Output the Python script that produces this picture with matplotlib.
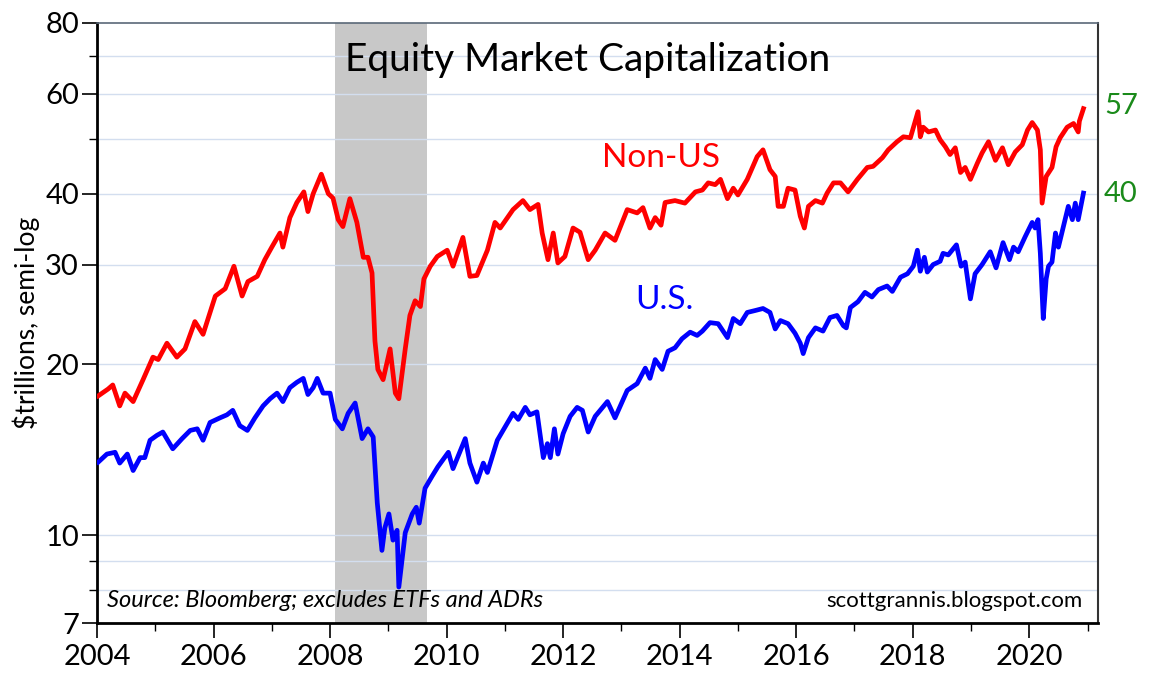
import matplotlib
matplotlib.use("Agg")
import matplotlib.pyplot as plt
from matplotlib.ticker import FixedLocator, NullFormatter

# decimal year, $ trillions
nonus_t = [2004.02, 2004.19, 2004.27, 2004.39, 2004.48, 2004.62, 2004.79, 2004.96, 2005.05, 2005.20,
           2005.37, 2005.51, 2005.68, 2005.82, 2006.03, 2006.20, 2006.35, 2006.49, 2006.59, 2006.75,
           2006.88, 2007.00, 2007.14, 2007.19, 2007.31, 2007.43, 2007.55, 2007.62, 2007.71, 2007.85,
           2007.97, 2008.05, 2008.14, 2008.22, 2008.34, 2008.46, 2008.57, 2008.65, 2008.72, 2008.77,
           2008.82, 2008.91, 2009.03, 2009.12, 2009.18, 2009.29, 2009.37, 2009.46, 2009.55, 2009.61,
           2009.72, 2009.84, 2010.01, 2010.11, 2010.28, 2010.40, 2010.52, 2010.70, 2010.83, 2010.92,
           2011.14, 2011.31, 2011.43, 2011.57, 2011.64, 2011.74, 2011.83, 2011.91, 2012.03, 2012.17,
           2012.29, 2012.43, 2012.55, 2012.72, 2012.89, 2013.10, 2013.27, 2013.37, 2013.49, 2013.58,
           2013.68, 2013.75, 2013.92, 2014.09, 2014.27, 2014.39, 2014.49, 2014.61, 2014.70, 2014.82,
           2014.92, 2015.00, 2015.16, 2015.33, 2015.43, 2015.55, 2015.64, 2015.69, 2015.78, 2015.86,
           2015.98, 2016.07, 2016.14, 2016.21, 2016.33, 2016.45, 2016.53, 2016.64, 2016.76, 2016.89,
           2017.05, 2017.22, 2017.32, 2017.48, 2017.58, 2017.73, 2017.84, 2017.96, 2018.09, 2018.13,
           2018.18, 2018.27, 2018.39, 2018.47, 2018.56, 2018.64, 2018.73, 2018.82, 2018.90, 2018.99,
           2019.11, 2019.19, 2019.30, 2019.42, 2019.54, 2019.64, 2019.76, 2019.88, 2019.97, 2020.05,
           2020.14, 2020.19, 2020.22, 2020.29, 2020.39, 2020.46, 2020.53, 2020.65, 2020.76, 2020.84,
           2020.86, 2020.93]
nonus_v = [17.6, 18.1, 18.4, 16.9, 17.8, 17.2, 18.8, 20.6, 20.4, 21.8,
           20.6, 21.3, 23.8, 22.6, 26.4, 27.2, 29.8, 26.4, 28.0, 28.6,
           30.6, 32.2, 34.1, 32.2, 36.3, 38.6, 40.3, 37.2, 40.0, 43.3,
           40.0, 39.3, 36.0, 35.0, 39.2, 35.6, 30.9, 30.9, 29.0, 22.0,
           19.6, 18.8, 21.3, 17.8, 17.4, 21.3, 24.4, 25.9, 25.3, 28.3,
           29.8, 31.0, 31.8, 29.8, 33.5, 28.6, 28.7, 31.8, 35.6, 34.8,
           37.5, 38.9, 37.5, 38.3, 34.1, 30.6, 34.1, 30.2, 31.0, 34.8,
           34.2, 30.6, 31.8, 34.1, 33.1, 37.5, 37.0, 37.8, 34.8, 36.3,
           35.2, 38.6, 38.9, 38.5, 40.3, 40.6, 41.8, 41.5, 42.4, 39.2,
           40.9, 39.8, 42.4, 46.5, 47.8, 44.1, 42.9, 38.0, 38.0, 40.9,
           40.6, 36.5, 34.8, 38.0, 38.9, 38.5, 40.1, 41.8, 41.8, 40.3,
           42.4, 44.5, 44.7, 46.3, 47.8, 49.4, 50.4, 50.2, 55.8, 50.4,
           52.4, 51.4, 51.8, 49.8, 48.4, 46.9, 48.2, 43.6, 44.5, 42.4,
           45.3, 47.2, 49.4, 45.8, 48.2, 45.0, 47.4, 48.8, 51.8, 53.4,
           51.8, 47.8, 38.5, 42.9, 44.5, 48.4, 50.2, 52.4, 53.2, 51.4,
           53.7, 56.5]

us_t = [2004.02, 2004.17, 2004.31, 2004.39, 2004.52, 2004.62, 2004.74, 2004.82, 2004.91, 2005.03,
        2005.13, 2005.30, 2005.46, 2005.60, 2005.72, 2005.82, 2005.94, 2006.11, 2006.23, 2006.33,
        2006.45, 2006.58, 2006.71, 2006.85, 2006.97, 2007.09, 2007.19, 2007.31, 2007.43, 2007.54,
        2007.62, 2007.71, 2007.78, 2007.88, 2008.00, 2008.09, 2008.21, 2008.31, 2008.43, 2008.55,
        2008.65, 2008.74, 2008.81, 2008.89, 2008.94, 2009.01, 2009.08, 2009.15, 2009.18, 2009.29,
        2009.41, 2009.48, 2009.53, 2009.63, 2009.75, 2009.85, 2010.03, 2010.11, 2010.32, 2010.40,
        2010.52, 2010.63, 2010.70, 2010.87, 2011.00, 2011.14, 2011.23, 2011.35, 2011.43, 2011.55,
        2011.66, 2011.73, 2011.78, 2011.85, 2011.91, 2012.00, 2012.12, 2012.24, 2012.33, 2012.43,
        2012.55, 2012.76, 2012.89, 2013.10, 2013.27, 2013.41, 2013.49, 2013.58, 2013.70, 2013.80,
        2013.92, 2014.04, 2014.18, 2014.30, 2014.39, 2014.52, 2014.66, 2014.82, 2014.92, 2015.04,
        2015.16, 2015.30, 2015.43, 2015.55, 2015.64, 2015.73, 2015.86, 2015.98, 2016.07, 2016.12,
        2016.21, 2016.33, 2016.46, 2016.58, 2016.70, 2016.81, 2016.86, 2016.93, 2017.06, 2017.18,
        2017.30, 2017.41, 2017.56, 2017.65, 2017.79, 2017.91, 2018.01, 2018.08, 2018.13, 2018.20,
        2018.25, 2018.35, 2018.47, 2018.52, 2018.61, 2018.75, 2018.83, 2018.90, 2018.99, 2019.07,
        2019.19, 2019.33, 2019.43, 2019.55, 2019.66, 2019.73, 2019.81, 2019.93, 2020.05, 2020.10,
        2020.15, 2020.19, 2020.24, 2020.29, 2020.33, 2020.39, 2020.45, 2020.50, 2020.58, 2020.67,
        2020.74, 2020.79, 2020.84, 2020.93]
us_v = [13.45, 13.9, 14.0, 13.4, 13.9, 13.0, 13.7, 13.7, 14.7, 15.0,
        15.2, 14.2, 14.8, 15.3, 15.4, 14.7, 15.8, 16.1, 16.3, 16.6,
        15.6, 15.3, 16.1, 16.9, 17.4, 17.8, 17.2, 18.2, 18.6, 18.9,
        17.7, 18.2, 18.9, 17.8, 17.8, 16.0, 15.4, 16.4, 17.1, 14.8,
        15.4, 14.9, 11.4, 9.4, 10.3, 10.9, 9.8, 10.2, 8.1, 10.1,
        10.9, 11.2, 10.5, 12.1, 12.7, 13.2, 14.0, 13.1, 14.8, 13.4,
        12.4, 13.4, 12.9, 14.7, 15.5, 16.4, 16.0, 16.8, 16.3, 16.5,
        13.7, 14.5, 13.7, 15.4, 13.9, 15.1, 16.2, 16.8, 16.6, 15.2,
        16.2, 17.2, 16.1, 18.0, 18.5, 19.7, 18.9, 20.4, 19.6, 21.1,
        21.4, 22.2, 22.8, 22.5, 22.9, 23.7, 23.6, 22.3, 24.1, 23.6,
        24.7, 24.9, 25.1, 24.7, 23.1, 23.9, 23.6, 22.7, 21.8, 20.9,
        22.3, 23.2, 22.9, 24.2, 24.4, 23.4, 23.2, 25.2, 25.8, 26.8,
        26.3, 27.1, 27.5, 26.9, 28.5, 28.9, 29.8, 31.8, 29.2, 30.9,
        29.1, 30.0, 30.4, 31.4, 31.2, 32.5, 29.8, 30.3, 26.1, 28.9,
        30.0, 31.6, 29.6, 32.8, 30.6, 32.2, 31.6, 33.6, 35.6, 34.8,
        36.0, 31.4, 24.1, 28.3, 29.8, 30.3, 34.1, 32.2, 34.8, 38.0,
        36.0, 38.5, 36.0, 40.1]

recession = (2008.08, 2009.66)
ytick_vals = [7, 10, 20, 30, 40, 60, 80]
grid_vals = [8, 9, 10, 20, 30, 40, 50, 60, 70]
minor_vals = [8, 9, 50, 70]
last_vals = [57, 40]

plt.rcParams['font.family'] = ['Lato', 'DejaVu Sans']

fig = plt.figure(figsize=(11.66, 6.80), dpi=100)
ax = fig.add_axes([0.0832, 0.0838, 0.8585, 0.8824])

ax.axvspan(recession[0], recession[1], color='#c8c8c8', zorder=0, lw=0)
for g in grid_vals:
    ax.axhline(g, color='#d3deef', lw=1.0, zorder=1)

ax.plot(nonus_t, nonus_v, color='#ff0000', lw=3.4, zorder=3, solid_joinstyle='round')
ax.plot(us_t, us_v, color='#0000ff', lw=3.4, zorder=3, solid_joinstyle='round')

ax.set_yscale('log')
ax.set_ylim(7, 80)
ax.set_xlim(2004, 2021.18)
ax.yaxis.set_major_locator(FixedLocator(ytick_vals))
ax.set_yticklabels([str(v) for v in ytick_vals])
ax.yaxis.set_minor_locator(FixedLocator(minor_vals))
ax.yaxis.set_minor_formatter(NullFormatter())
ax.set_xticks(list(range(2004, 2021, 2)))
ax.set_xticks(list(range(2005, 2022, 2)), minor=True)
ax.tick_params(axis='both', which='major', labelsize=21, length=11, width=1.2, direction='out', colors='black')
ax.tick_params(axis='both', which='minor', length=6, width=1.0, direction='out')
ax.tick_params(axis='y', pad=2)
ax.tick_params(axis='x', pad=4)

for s in ['left', 'bottom']:
    ax.spines[s].set_linewidth(2)
    ax.spines[s].set_color('black')
ax.spines['right'].set_linewidth(1.5)
ax.spines['right'].set_color('#333333')
ax.spines['top'].set_linewidth(1.2)
ax.spines['top'].set_color('#5a6878')

ax.set_ylabel('$trillions, semi-log', fontsize=19, labelpad=4)

ax.text(0.49, 0.938, 'Equity Market Capitalization', transform=ax.transAxes,
        ha='center', va='center', fontsize=28, color='black', zorder=5)
ax.text(0.563, 0.775, 'Non-US', transform=ax.transAxes, ha='center', va='center',
        fontsize=24, color='#ff0000', zorder=5)
ax.text(0.567, 0.538, 'U.S.', transform=ax.transAxes, ha='center', va='center',
        fontsize=24, color='#0000ff', zorder=5)
ax.text(0.01, 0.02, 'Source: Bloomberg; excludes ETFs and ADRs', transform=ax.transAxes,
        ha='left', va='bottom', fontsize=17, style='italic', color='black', zorder=5)
ax.text(0.985, 0.02, 'scottgrannis.blogspot.com', transform=ax.transAxes,
        ha='right', va='bottom', fontsize=16, color='black', zorder=5)

for v in last_vals:
    ax.text(1.006, v, str(v), transform=ax.get_yaxis_transform(), ha='left', va='center',
            fontsize=21, color='#1a8a1a', clip_on=False)

fig.savefig('out.png', dpi=100)
